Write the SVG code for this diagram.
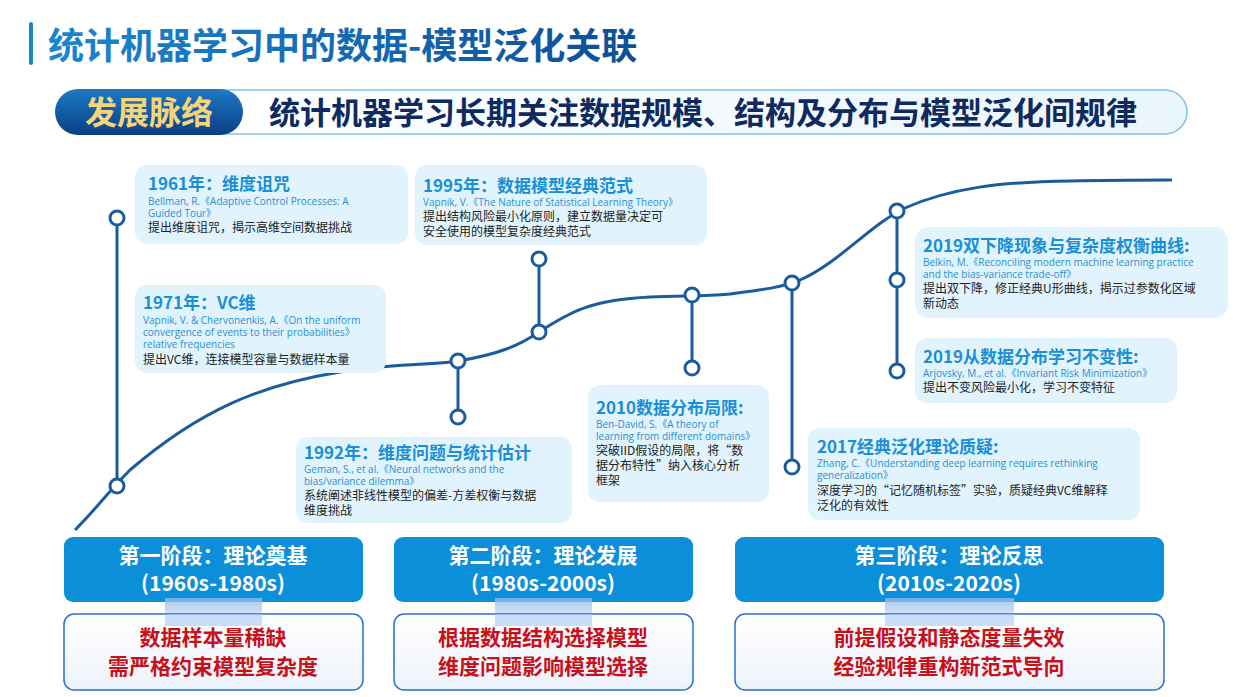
<svg xmlns="http://www.w3.org/2000/svg" width="1240" height="697" viewBox="0 0 1240 697">
<defs>
<linearGradient id="tg" x1="0" x2="1"><stop offset="0" stop-color="#1a86d0"/><stop offset="1" stop-color="#0d4f97"/></linearGradient>
<linearGradient id="pill" x1="0" x2="0" y1="0" y2="1"><stop offset="0" stop-color="#1c7ac4"/><stop offset="1" stop-color="#0b3f85"/></linearGradient>
<linearGradient id="band" x1="0" x2="1"><stop offset="0" stop-color="#ffffff"/><stop offset="1" stop-color="#eaf5fc"/></linearGradient>
<linearGradient id="arr" x1="0" x2="0" y1="0" y2="1"><stop offset="0" stop-color="#8fb8e8" stop-opacity="0.8"/><stop offset="1" stop-color="#c9dcf4" stop-opacity="0.6"/></linearGradient>
<linearGradient id="low" x1="0" x2="0" y1="0" y2="1"><stop offset="0" stop-color="#ffffff"/><stop offset="1" stop-color="#eef3fb"/></linearGradient>
</defs>
<style>
.box{fill:#e1f4fd}
.h{font-family:"Noto Sans CJK SC",sans-serif;font-weight:700;font-size:17px;fill:#1a8fd6}
.r{font-family:"Open Sans","Noto Sans CJK SC",sans-serif;font-size:10px;fill:#2b8fd0}
.b{font-family:"Noto Sans CJK SC",sans-serif;font-size:12px;fill:#222}
.st{fill:#0b8fd8}
.stt{font-family:"Noto Sans CJK SC",sans-serif;font-weight:700;font-size:21px;fill:#fff;text-anchor:middle}
.lo{fill:url(#low);stroke:#2a6fd0;stroke-width:1.5}
.lt{font-family:"Noto Sans CJK SC",sans-serif;font-weight:700;font-size:21px;fill:#c8101a;text-anchor:middle}
.ln{fill:none;stroke:#1b5c9e;stroke-width:3}
.dot{fill:#fff;stroke:#1b5c9e;stroke-width:3}
</style>
<rect width="1240" height="697" fill="#fff"/>
<rect x="29" y="22" width="4" height="43" rx="2" fill="#1a86d0"/>
<text x="48" y="59" font-family="Noto Sans CJK SC,sans-serif" font-weight="700" font-size="36" fill="url(#tg)">统计机器学习中的数据-模型泛化关联</text>
<rect x="200" y="90" width="987" height="44" rx="22" fill="url(#band)" stroke="#7cc3ec" stroke-width="1.5"/>
<rect x="55" y="89" width="188" height="46" rx="23" fill="url(#pill)"/>
<text x="149" y="124" text-anchor="middle" font-family="Noto Sans CJK SC,sans-serif" font-weight="700" font-size="32" fill="#f5d47a">发展脉络</text>
<text x="269" y="124" font-family="Noto Sans CJK SC,sans-serif" font-weight="700" font-size="31" fill="#0e2a5e">统计机器学习长期关注数据规模、结构及分布与模型泛化间规律</text>
<g id="connectors">
<path class="ln" d="M75,530 C95,510 110,490 130,470 C200,410 260,385 340,372 C400,362 430,366 458,361 C500,354 520,345 539,332 C570,312 590,300 650,297 C680,295 700,297 730,294 C760,290 780,288 800,280 C840,262 870,225 905,208 C950,188 1000,182 1070,181 C1110,180 1140,180 1172,180"/>
<line class="ln" x1="117" y1="218" x2="117" y2="486"/>
<line class="ln" x1="458" y1="361" x2="458" y2="417"/>
<line class="ln" x1="539" y1="259" x2="539" y2="332"/>
<line class="ln" x1="692" y1="295" x2="692" y2="368"/>
<line class="ln" x1="792" y1="283" x2="792" y2="467"/>
<line class="ln" x1="897" y1="211" x2="897" y2="371"/>
<circle class="dot" cx="117" cy="218" r="7"/><circle class="dot" cx="117" cy="486" r="7"/>
<circle class="dot" cx="458" cy="361" r="7"/><circle class="dot" cx="458" cy="417" r="7"/>
<circle class="dot" cx="539" cy="259" r="7"/><circle class="dot" cx="539" cy="332" r="7"/>
<circle class="dot" cx="692" cy="295" r="7"/><circle class="dot" cx="692" cy="368" r="7"/>
<circle class="dot" cx="792" cy="283" r="7"/><circle class="dot" cx="792" cy="467" r="7"/>
<circle class="dot" cx="897" cy="211" r="7"/><circle class="dot" cx="897" cy="280" r="7"/><circle class="dot" cx="897" cy="371" r="7"/>
</g>
<g id="n1961"><rect class="box" x="135" y="165" width="273" height="79" rx="12"/>
<text class="h" x="148" y="190">1961年：维度诅咒</text>
<text class="r" x="148" y="205">Bellman, R.《Adaptive Control Processes: A</text>
<text class="r" x="148" y="217">Guided Tour》</text>
<text class="b" x="148" y="232">提出维度诅咒，揭示高维空间数据挑战</text></g>
<g id="n1971"><rect class="box" x="135" y="285" width="251" height="88" rx="12"/>
<text class="h" x="143" y="309">1971年：VC维</text>
<text class="r" x="143" y="324">Vapnik, V. &amp; Chervonenkis, A.《On the uniform</text>
<text class="r" x="143" y="336">convergence of events to their probabilities》</text>
<text class="r" x="143" y="348">relative frequencies</text>
<text class="b" x="143" y="364">提出VC维，连接模型容量与数据样本量</text></g>
<g id="n1992"><rect class="box" x="296" y="437" width="276" height="86" rx="12"/>
<text class="h" x="304" y="459">1992年：维度问题与统计估计</text>
<text class="r" x="304" y="473">Geman, S., et al.《Neural networks and the</text>
<text class="r" x="304" y="485">bias/variance dilemma》</text>
<text class="b" x="304" y="500">系统阐述非线性模型的偏差-方差权衡与数据</text>
<text class="b" x="304" y="515">维度挑战</text></g>
<g id="n1995"><rect class="box" x="415" y="165" width="292" height="80" rx="12"/>
<text class="h" x="423" y="192">1995年：数据模型经典范式</text>
<text class="r" x="423" y="206">Vapnik, V.《The Nature of Statistical Learning Theory》</text>
<text class="b" x="423" y="221">提出结构风险最小化原则，建立数据量决定可</text>
<text class="b" x="423" y="236">安全使用的模型复杂度经典范式</text></g>
<g id="n2010"><rect class="box" x="588" y="385" width="181" height="117" rx="12"/>
<text class="h" x="596" y="414">2010数据分布局限:</text>
<text class="r" x="596" y="428">Ben-David, S.《A theory of</text>
<text class="r" x="596" y="440">learning from different domains》</text>
<text class="b" x="596" y="455">突破IID假设的局限，将“数</text>
<text class="b" x="596" y="470">据分布特性”纳入核心分析</text>
<text class="b" x="596" y="485">框架</text></g>
<g id="n2017"><rect class="box" x="808" y="428" width="332" height="92" rx="12"/>
<text class="h" x="817" y="453">2017经典泛化理论质疑:</text>
<text class="r" x="817" y="467">Zhang, C.《Understanding deep learning requires rethinking</text>
<text class="r" x="817" y="479">generalization》</text>
<text class="b" x="817" y="495">深度学习的“记忆随机标签”实验，质疑经典VC维解释</text>
<text class="b" x="817" y="510">泛化的有效性</text></g>
<g id="n2019a"><rect class="box" x="915" y="227" width="313" height="91" rx="14"/>
<text class="h" x="923" y="252">2019双下降现象与复杂度权衡曲线:</text>
<text class="r" x="923" y="266">Belkin, M.《Reconciling modern machine learning practice</text>
<text class="r" x="923" y="278">and the bias-variance trade-off》</text>
<text class="b" x="923" y="293">提出双下降，修正经典U形曲线，揭示过参数化区域</text>
<text class="b" x="923" y="308">新动态</text></g>
<g id="n2019b"><rect class="box" x="915" y="338" width="262" height="65" rx="12"/>
<text class="h" x="923" y="363">2019从数据分布学习不变性:</text>
<text class="r" x="923" y="377">Arjovsky, M., et al.《Invariant Risk Minimization》</text>
<text class="b" x="923" y="392">提出不变风险最小化，学习不变特征</text></g>
<g id="stage1"><rect class="st" x="64" y="537" width="299" height="65" rx="9"/>
<rect x="165" y="598" width="97" height="22" fill="url(#arr)"/>
<rect class="lo" x="64" y="614" width="299" height="76" rx="10"/>
<rect x="165" y="614" width="97" height="12" fill="#aac8ee" opacity="0.6"/>
<text class="stt" x="213" y="563">第一阶段：理论奠基</text>
<text class="stt" x="213" y="591">(1960s-1980s)</text>
<text class="lt" x="213" y="645">数据样本量稀缺</text>
<text class="lt" x="213" y="674">需严格约束模型复杂度</text></g>
<g id="stage2"><rect class="st" x="394" y="537" width="299" height="65" rx="9"/>
<rect x="495" y="598" width="97" height="22" fill="url(#arr)"/>
<rect class="lo" x="394" y="614" width="299" height="76" rx="10"/>
<rect x="495" y="614" width="97" height="12" fill="#aac8ee" opacity="0.6"/>
<text class="stt" x="543" y="563">第二阶段：理论发展</text>
<text class="stt" x="543" y="591">(1980s-2000s)</text>
<text class="lt" x="543" y="645">根据数据结构选择模型</text>
<text class="lt" x="543" y="674">维度问题影响模型选择</text></g>
<g id="stage3"><rect class="st" x="735" y="537" width="429" height="65" rx="9"/>
<rect x="885" y="598" width="129" height="22" fill="url(#arr)"/>
<rect class="lo" x="735" y="614" width="429" height="76" rx="10"/>
<rect x="885" y="614" width="129" height="12" fill="#aac8ee" opacity="0.6"/>
<text class="stt" x="949" y="563">第三阶段：理论反思</text>
<text class="stt" x="949" y="591">(2010s-2020s)</text>
<text class="lt" x="949" y="645">前提假设和静态度量失效</text>
<text class="lt" x="949" y="674">经验规律重构新范式导向</text></g>
</svg>
